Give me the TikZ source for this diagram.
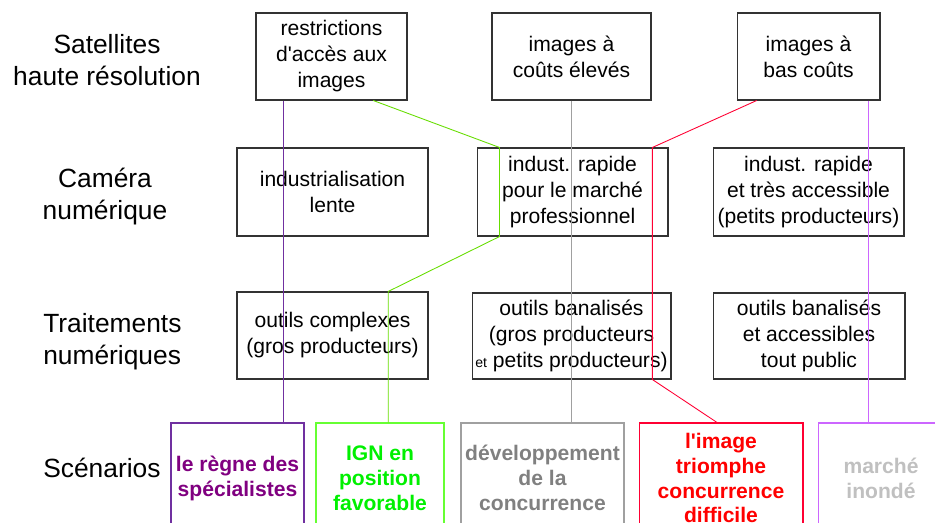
\documentclass[tikz,border=0pt]{standalone}
\usepackage{fontspec}
\setmainfont{Liberation Sans}
\usepackage{xcolor}
\usetikzlibrary{calc}

\definecolor{violetfonce}{RGB}{112,48,160}
\definecolor{violettexte}{RGB}{128,0,128}
\definecolor{vertligne}{RGB}{102,221,0}
\definecolor{vertcadre}{RGB}{102,255,51}
\definecolor{verttexte}{RGB}{0,240,0}
\definecolor{grisligne}{RGB}{160,160,160}
\definecolor{gristexte}{RGB}{128,128,128}
\definecolor{rougeligne}{RGB}{255,0,51}
\definecolor{rougetexte}{RGB}{255,0,0}
\definecolor{lilas}{RGB}{204,102,255}
\definecolor{grisclair}{RGB}{192,192,192}

\begin{document}
\begin{tikzpicture}[x=0.02cm, y=-0.02cm, line width=0.5pt,
		boite/.style={draw=black!80, line width=0.6pt, align=center,
			inner sep=0pt, font=\fontsize{12}{14.8}\selectfont},
		scenario/.style={draw, line width=0.6pt, align=center, inner sep=0pt,
			minimum height=2.2cm, font=\fontsize{12}{14.2}\selectfont\bfseries},
		rangee/.style={align=center, font=\fontsize{15}{18.2}\selectfont}]
	\useasboundingbox (0,0) rectangle (935,523);
	\clip (0,0) rectangle (935,523);

	\node[rangee] (lsat) at (107,60) {Satellites\\haute résolution};
	\node[rangee] (lcam) at (105,197) {Caméra\\numérique};
	\node[rangee, align=left, anchor=west] (ltrt) at (37,341.5) {Traitements\\numériques};
	\node[rangee, anchor=west] (lscen) at (37,467.5) {Scénarios};

	\node[boite, minimum width=3.02cm, minimum height=1.74cm] (sat1) at (331.5,56.5)
		{restrictions\\d\textquotesingle accès aux\\images};
	\node[boite, minimum width=3.18cm, minimum height=1.74cm] (sat2) at (571.5,56.5)
		{images à\\coûts élevés};
	\node[boite, minimum width=2.86cm, minimum height=1.74cm] (sat3) at (808.5,56.5)
		{images à\\bas coûts};

	\node[boite, minimum width=3.82cm, minimum height=1.76cm] (cam1) at (332.5,192)
		{industrialisation\\lente};
	\node[boite, minimum width=3.82cm, minimum height=1.76cm] (cam2) at (572.5,192)
		{indust. rapide\\pour le marché\\professionnel};
	\node[boite, minimum width=3.82cm, minimum height=1.76cm] (cam3) at (808.5,192)
		{indust. rapide\\et très accessible\\(petits producteurs)};

	\node[boite, minimum width=3.82cm, minimum height=1.74cm] (trt1) at (332.5,335.5)
		{outils complexes\\(gros producteurs)};
	\node[boite, minimum width=3.98cm, minimum height=1.72cm] (trt2) at (571.5,336)
		{outils banalisés\\(gros producteurs\\{\fontsize{8}{8}\selectfont et} petits producteurs)};
	\node[boite, minimum width=3.84cm, minimum height=1.72cm] (trt3) at (809,336)
		{outils banalisés\\et accessibles\\tout public};

	\node[scenario, draw=violetfonce, text=violettexte, minimum width=2.66cm] (scen1) at (237.5,478)
		{le règne des\\spécialistes};
	\node[scenario, draw=vertcadre, text=verttexte, minimum width=2.56cm] (scen2) at (380,478)
		{IGN en\\position\\favorable};
	\node[scenario, draw=grisligne, text=gristexte, minimum width=3.26cm] (scen3) at (542.5,478)
		{développement\\de la\\concurrence};
	\node[scenario, draw=rougeligne, text=rougetexte, minimum width=3.28cm] (scen4) at (721,478)
		{l\textquotesingle image\\triomphe\\concurrence\\difficile};
	\node[scenario, draw=lilas, text=grisclair, minimum width=2.52cm] (scen5) at (881,478)
		{marché\\inondé};

	\draw[violetfonce] ($(sat1.south west)!.185!(sat1.south east)$) coordinate (v1)
		-- (v1 |- scen1.north);
	\draw[vertligne] ($(sat1.south west)!.775!(sat1.south east)$)
		-- ($(cam2.north west)!.12!(cam2.north east)$)
		-- ($(cam2.south west)!.12!(cam2.south east)$)
		-- ($(trt1.north west)!.79!(trt1.north east)$) coordinate (v2)
		-- (v2 |- scen2.north);
	\draw[grisligne] (sat2.south) -- (sat2.south |- scen3.north);
	\draw[rougeligne] ($(sat3.south west)!.14!(sat3.south east)$)
		-- ($(cam2.north west)!.916!(cam2.north east)$) coordinate (r1)
		-- (r1 |- trt2.south)
		-- ($(scen4.north west)!.476!(scen4.north east)$);
	\draw[lilas] ($(sat3.south west)!.916!(sat3.south east)$) coordinate (l1)
		-- (l1 |- scen5.north);
\end{tikzpicture}
\end{document}
